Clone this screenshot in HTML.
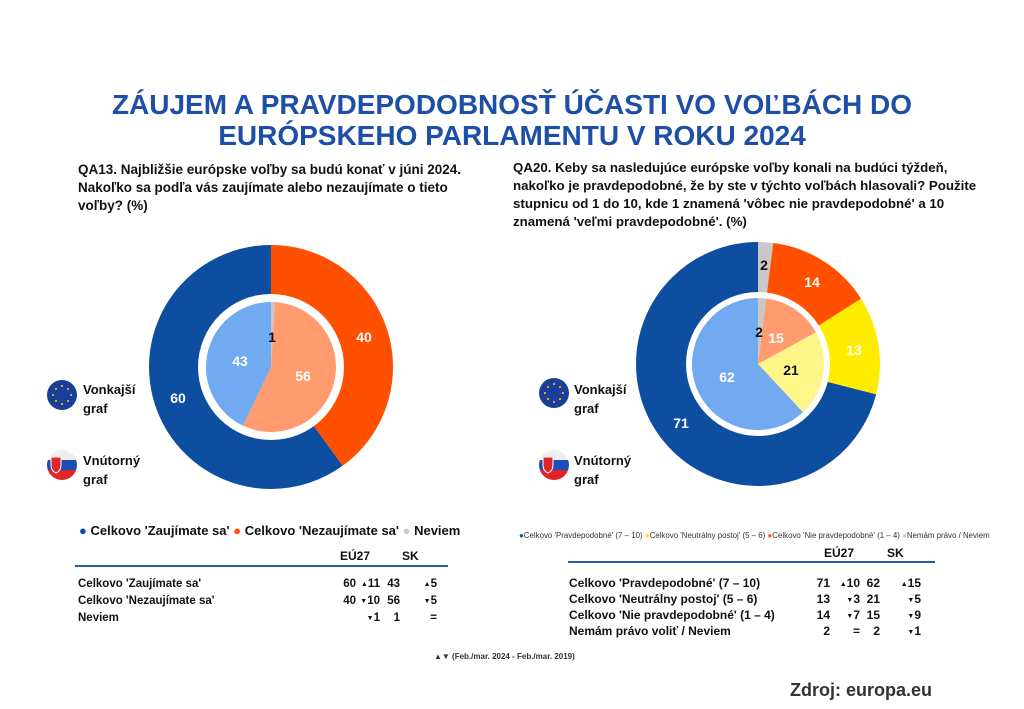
<!DOCTYPE html>
<html><head><meta charset="utf-8"><style>
body{margin:0;width:1024px;height:709px;background:#fff;position:relative;overflow:hidden;font-family:"Liberation Sans",sans-serif;color:#111}
.a{position:absolute;white-space:nowrap}
.t{left:0;width:1024px;text-align:center;color:#1d4fa6;font-weight:bold;font-size:28px}
.q{font-weight:bold;font-size:13.5px;line-height:18px}
.b{font-weight:bold;font-size:12px}
.r{text-align:right}
small{font-size:7px;line-height:0;vertical-align:1px}
</style></head><body>
<div class="a t" style="top:89px">ZÁUJEM A PRAVDEPODOBNOSŤ ÚČASTI VO VOĽBÁCH DO</div>
<div class="a t" style="top:120px">EURÓPSKEHO PARLAMENTU V ROKU 2024</div>
<div class="a q" style="left:78px;top:161px">QA13. Najbližšie európske voľby sa budú konať v júni 2024.<br>Nakoľko sa podľa vás zaujímate alebo nezaujímate o tieto<br>voľby? (%)</div>
<div class="a q" style="left:513px;top:159px;font-size:13.3px">QA20. Keby sa nasledujúce európske voľby konali na budúci týždeň,<br>nakoľko je pravdepodobné, že by ste v týchto voľbách hlasovali? Použite<br>stupnicu od 1 do 10, kde 1 znamená 'vôbec nie pravdepodobné' a 10<br>znamená 'veľmi pravdepodobné'. (%)</div>

<svg class="a" style="left:0;top:0" width="1024" height="709">
<g transform="rotate(-90 271 367)" fill="none">
<circle cx="271" cy="367" r="61" stroke="#fe5000" stroke-width="122" stroke-dasharray="153.31 400"/>
<circle cx="271" cy="367" r="61" stroke="#0e4ea1" stroke-width="122" stroke-dasharray="229.96 400" stroke-dashoffset="-153.31"/>
</g>
<circle cx="271" cy="367" r="73" fill="#fff"/>
<g transform="rotate(-90 271 367)" fill="none">
<circle cx="271" cy="367" r="32.5" stroke="#c8c8c8" stroke-width="65" stroke-dasharray="2.04 300"/>
<circle cx="271" cy="367" r="32.5" stroke="#ff9b6f" stroke-width="65" stroke-dasharray="114.35 300" stroke-dashoffset="-2.04"/>
<circle cx="271" cy="367" r="32.5" stroke="#72aaf2" stroke-width="65" stroke-dasharray="87.81 300" stroke-dashoffset="-116.39"/>
</g>
<g transform="rotate(-90 758 364)" fill="none">
<circle cx="758" cy="364" r="61" stroke="#c8c8c8" stroke-width="122" stroke-dasharray="7.67 400"/>
<circle cx="758" cy="364" r="61" stroke="#fe5000" stroke-width="122" stroke-dasharray="53.66 400" stroke-dashoffset="-7.67"/>
<circle cx="758" cy="364" r="61" stroke="#ffed00" stroke-width="122" stroke-dasharray="49.82 400" stroke-dashoffset="-61.33"/>
<circle cx="758" cy="364" r="61" stroke="#0e4ea1" stroke-width="122" stroke-dasharray="272.12 400" stroke-dashoffset="-111.15"/>
</g>
<circle cx="758" cy="364" r="72" fill="#fff"/>
<g transform="rotate(-90 758 364)" fill="none">
<circle cx="758" cy="364" r="33" stroke="#c8c8c8" stroke-width="66" stroke-dasharray="4.15 300"/>
<circle cx="758" cy="364" r="33" stroke="#ff9b6f" stroke-width="66" stroke-dasharray="31.10 300" stroke-dashoffset="-4.15"/>
<circle cx="758" cy="364" r="33" stroke="#fff68a" stroke-width="66" stroke-dasharray="43.54 300" stroke-dashoffset="-35.25"/>
<circle cx="758" cy="364" r="33" stroke="#72aaf2" stroke-width="66" stroke-dasharray="128.56 300" stroke-dashoffset="-78.79"/>
</g>
<g font-family="Liberation Sans,sans-serif" font-weight="bold" font-size="14" text-anchor="middle" fill="#fff">
<text x="364" y="342">40</text><text x="178" y="403">60</text>
<text x="240" y="366">43</text><text x="303" y="381">56</text><text x="272" y="342" fill="#111">1</text>
<text x="812" y="287">14</text><text x="854" y="355">13</text><text x="681" y="428">71</text>
<text x="727" y="382">62</text><text x="776" y="343">15</text><text x="791" y="375" fill="#111">21</text>
<text x="764" y="270" fill="#111">2</text><text x="759" y="337" fill="#111">2</text>
</g>
<circle cx="62" cy="395" r="15" fill="#1a3e9a"/>
<circle cx="554" cy="393" r="15" fill="#1a3e9a"/>
<g fill="#ffd700">
<circle cx="62" cy="386" r="1"/><circle cx="62" cy="404" r="1"/><circle cx="53" cy="395" r="1"/><circle cx="71" cy="395" r="1"/>
<circle cx="56" cy="389" r="1"/><circle cx="68" cy="389" r="1"/><circle cx="56" cy="401" r="1"/><circle cx="68" cy="401" r="1"/>
<circle cx="554" cy="384" r="1"/><circle cx="554" cy="402" r="1"/><circle cx="545" cy="393" r="1"/><circle cx="563" cy="393" r="1"/>
<circle cx="548" cy="387" r="1"/><circle cx="560" cy="387" r="1"/><circle cx="548" cy="399" r="1"/><circle cx="560" cy="399" r="1"/>
</g>
<defs><clipPath id="c1"><circle cx="62" cy="465" r="15"/></clipPath><clipPath id="c2"><circle cx="554" cy="465" r="15"/></clipPath></defs>
<g clip-path="url(#c1)"><rect x="45" y="448" width="34" height="12" fill="#eee"/><rect x="45" y="460" width="34" height="10" fill="#1b4fb5"/><rect x="45" y="470" width="34" height="12" fill="#e0242a"/><path d="M51 457h10v8q0 6-5 8q-5-2-5-8z" fill="#e0242a" stroke="#fff"/></g>
<g clip-path="url(#c2)"><rect x="537" y="448" width="34" height="12" fill="#eee"/><rect x="537" y="460" width="34" height="10" fill="#1b4fb5"/><rect x="537" y="470" width="34" height="12" fill="#e0242a"/><path d="M543 457h10v8q0 6-5 8q-5-2-5-8z" fill="#e0242a" stroke="#fff"/></g>
<line x1="75" y1="566" x2="448" y2="566" stroke="#2a5aa8" stroke-width="2"/>
<line x1="568" y1="562" x2="935" y2="562" stroke="#2a5aa8" stroke-width="2"/>
</svg>
<div class="a b" style="left:83px;top:380px;font-size:13px;line-height:19px">Vonkajší<br>graf</div>
<div class="a b" style="left:83px;top:451px;font-size:13px;line-height:19px">Vnútorný<br>graf</div>
<div class="a b" style="left:574px;top:380px;font-size:13px;line-height:19px">Vonkajší<br>graf</div>
<div class="a b" style="left:574px;top:451px;font-size:13px;line-height:19px">Vnútorný<br>graf</div>

<div class="a b" style="left:79px;top:523px;font-size:13px"><span style="color:#0e4ea1">●</span> Celkovo 'Zaujímate sa' <span style="color:#fe5000">●</span> Celkovo 'Nezaujímate sa' <span style="color:#ccc">●</span> Neviem</div>
<div class="a b" style="left:340px;top:549px">EÚ27</div><div class="a b" style="left:402px;top:549px">SK</div>
<div class="a" style="left:78px;top:576px;font-size:11.5px;font-weight:bold;line-height:17px">Celkovo 'Zaujímate sa'<br>Celkovo 'Nezaujímate sa'<br>Neviem</div>
<div class="a r" style="left:320px;top:576px;width:36px;font-size:11.5px;font-weight:bold;line-height:17px">60<br>40<br>&nbsp;</div>
<div class="a r" style="left:350px;top:576px;width:30px;font-size:11.5px;font-weight:bold;line-height:17px"><small>▲</small>11<br><small>▼</small>10<br><small>▼</small>1</div>
<div class="a r" style="left:370px;top:576px;width:30px;font-size:11.5px;font-weight:bold;line-height:17px">43<br>56<br>1</div>
<div class="a r" style="left:405px;top:576px;width:32px;font-size:11.5px;font-weight:bold;line-height:17px"><small>▲</small>5<br><small>▼</small>5<br>=</div>

<div class="a" style="left:519px;top:531px;font-size:7.9px;color:#333"><span style="color:#0e4ea1">●</span>Celkovo 'Pravdepodobné' (7 – 10) <span style="color:#ffe000">●</span>Celkovo 'Neutrálny postoj' (5 – 6) <span style="color:#fe5000">●</span>Celkovo 'Nie pravdepodobné' (1 – 4) <span style="color:#ccc">●</span>Nemám právo / Neviem</div>
<div class="a b" style="left:824px;top:546px">EÚ27</div><div class="a b" style="left:887px;top:546px">SK</div>
<div class="a" style="left:569px;top:575px;font-size:12px;font-weight:bold;line-height:16px">Celkovo 'Pravdepodobné' (7 – 10)<br>Celkovo 'Neutrálny postoj' (5 – 6)<br>Celkovo 'Nie pravdepodobné' (1 – 4)<br>Nemám právo voliť / Neviem</div>
<div class="a r" style="left:800px;top:575px;width:30px;font-size:12px;font-weight:bold;line-height:16px">71<br>13<br>14<br>2</div>
<div class="a r" style="left:830px;top:575px;width:30px;font-size:12px;font-weight:bold;line-height:16px"><small>▲</small>10<br><small>▼</small>3<br><small>▼</small>7<br>=</div>
<div class="a r" style="left:850px;top:575px;width:30px;font-size:12px;font-weight:bold;line-height:16px">62<br>21<br>15<br>2</div>
<div class="a r" style="left:890px;top:575px;width:31px;font-size:12px;font-weight:bold;line-height:16px"><small>▲</small>15<br><small>▼</small>5<br><small>▼</small>9<br><small>▼</small>1</div>

<div class="a" style="left:434px;top:652px;font-size:8px;font-weight:bold;color:#333">▲▼ (Feb./mar. 2024 - Feb./mar. 2019)</div>
<div class="a" style="left:790px;top:680px;font-size:18px;font-weight:bold;color:#333">Zdroj: europa.eu</div>
</body></html>
